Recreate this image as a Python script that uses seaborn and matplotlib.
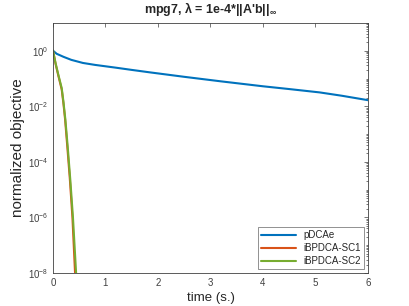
import numpy as np
import pandas as pd
import matplotlib
matplotlib.use("Agg")
import matplotlib.pyplot as plt
import matplotlib.ticker as mticker
import seaborn as sns

# data
t_pdca = [0.0, 0.07, 0.2, 0.35, 0.57, 0.8, 1.2, 1.5, 1.85, 2.5, 3.2, 4.0, 4.5, 5.08, 5.5, 6.0]
v_pdca = [1.0, 0.776, 0.603, 0.468, 0.363, 0.309, 0.245, 0.204, 0.166, 0.115, 0.079, 0.0525, 0.0417, 0.0316, 0.024, 0.0166]

t_sc1 = [0.0, 0.05, 0.1, 0.166, 0.2, 0.23, 0.27, 0.32, 0.37, 0.42, 0.45]
v_sc1 = [1.0, 0.33, 0.13, 0.04, 0.012, 0.0034, 4e-4, 2.5e-5, 1e-6, 1e-8, 1e-9]

t_sc2 = [0.0, 0.05, 0.1, 0.166, 0.2, 0.235, 0.28, 0.33, 0.38, 0.44, 0.47]
v_sc2 = [1.0, 0.35, 0.14, 0.045, 0.014, 0.0034, 3.5e-4, 2.2e-5, 1e-6, 1e-8, 1e-9]

names = ["pDCAe", "iBPDCA-SC1", "iBPDCA-SC2"]
colors = ["#0072BD", "#D95319", "#77AC30"]

df = pd.concat([
    pd.DataFrame({"time": t_pdca, "obj": v_pdca, "method": names[0]}),
    pd.DataFrame({"time": t_sc1, "obj": v_sc1, "method": names[1]}),
    pd.DataFrame({"time": t_sc2, "obj": v_sc2, "method": names[2]}),
], ignore_index=True)

sns.set_theme(style="white")
plt.rcParams["font.family"] = ["Liberation Sans", "DejaVu Sans"]
plt.rcParams["mathtext.fontset"] = "custom"
plt.rcParams["mathtext.rm"] = "Liberation Sans"
plt.rcParams["mathtext.bf"] = "Liberation Sans:bold"

fig = plt.figure(figsize=(4.09, 3.06), dpi=100)
ax = fig.add_axes([0.1296, 0.108, 0.770, 0.817])

sns.lineplot(data=df, x="time", y="obj", hue="method", hue_order=names,
             palette=colors, linewidth=1.5, ax=ax, sort=False, estimator=None)

ax.set_yscale("log")
ax.set_xlim(0, 6)
ax.set_ylim(1e-8, 10)
ax.set_xticks([0, 1, 2, 3, 4, 5, 6])
ax.yaxis.set_major_locator(mticker.FixedLocator([1e-8, 1e-6, 1e-4, 1e-2, 1e0]))
ax.yaxis.set_major_formatter(mticker.FuncFormatter(lambda v, p: r"$10^{%d}$" % int(round(np.log10(v)))))
ax.yaxis.set_minor_locator(mticker.LogLocator(base=10, subs=np.arange(1, 10), numticks=30))
ax.yaxis.set_minor_formatter(mticker.NullFormatter())

ax.tick_params(axis="both", which="both", direction="in", top=True, right=True,
               labelsize=7, labelcolor="#404040", color="#404040", length=3, width=0.5)
ax.tick_params(axis="both", which="minor", length=1.8)
for s in ax.spines.values():
    s.set_color("#404040")
    s.set_linewidth(0.6)

ax.set_xlabel("time (s.)", fontsize=9.5, labelpad=3, color="#262626")
ax.set_ylabel("normalized objective", fontsize=11, labelpad=2, color="#262626")
ax.set_title(r"mpg7, λ = 1e-4*||A'b||$_{\mathbf{\infty}}$", fontsize=9, fontweight="bold", pad=7)

leg = ax.legend(loc="lower right", fontsize=7, frameon=True, fancybox=False,
                edgecolor="#404040", handlelength=3.6, borderpad=0.3,
                labelspacing=0.3, borderaxespad=0.4)
leg.get_frame().set_linewidth(0.5)

fig.savefig("out.png", dpi=100)
